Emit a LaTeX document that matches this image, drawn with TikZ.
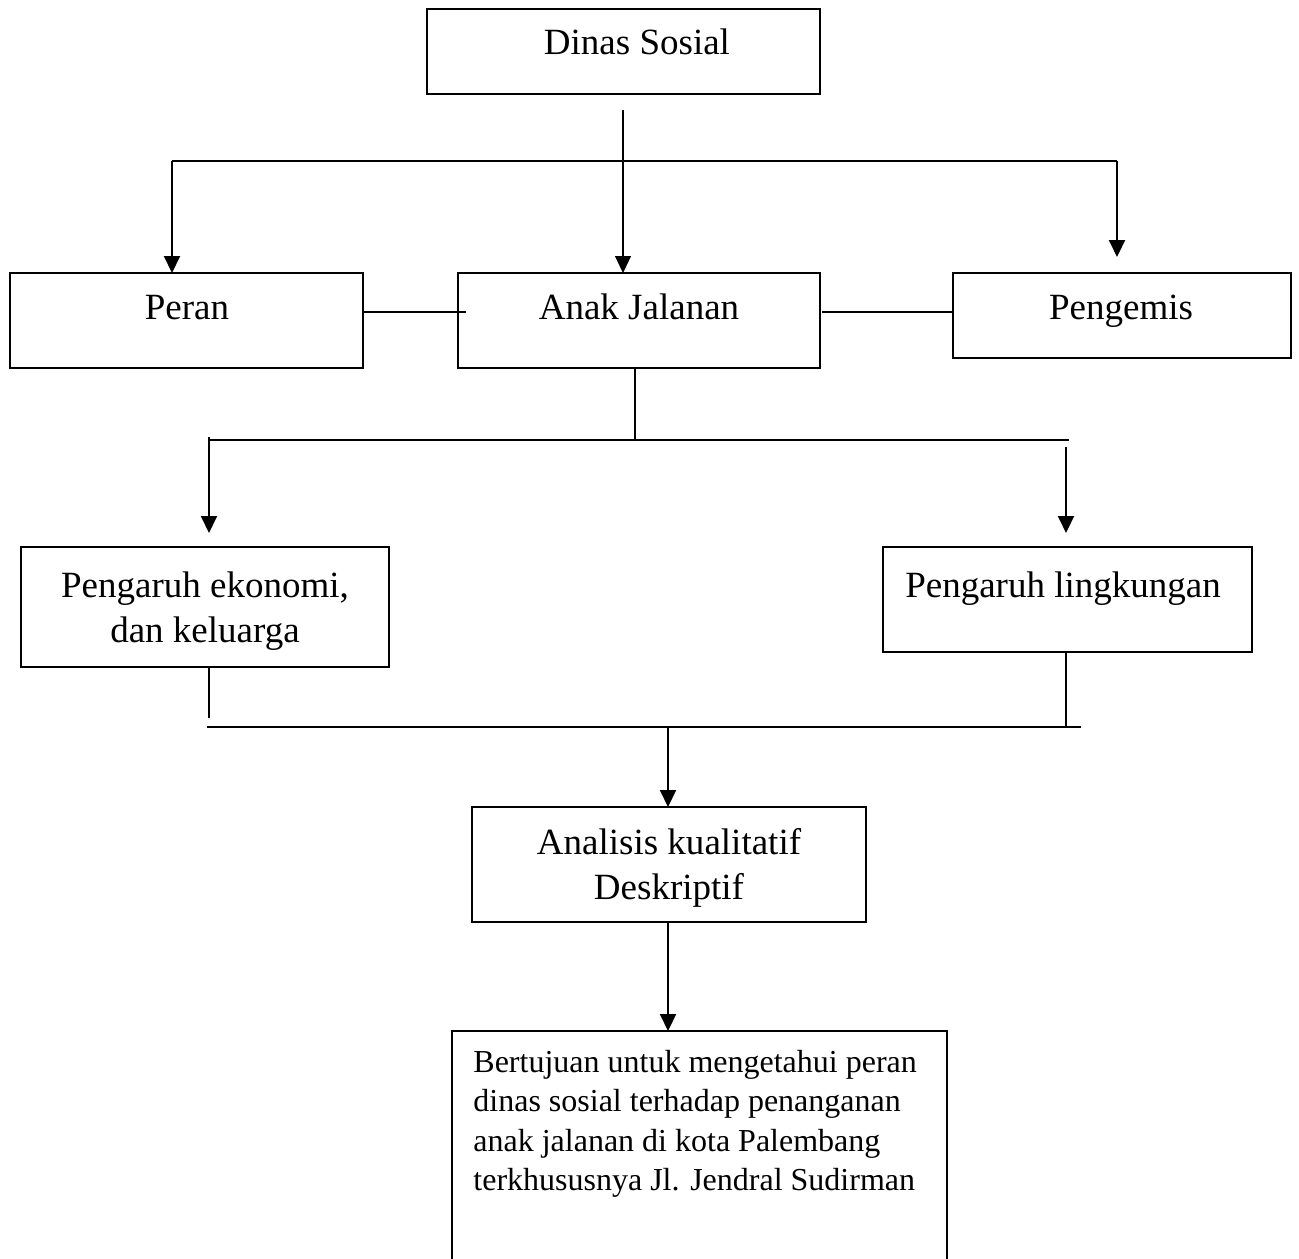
\documentclass[tikz,border=0pt]{standalone}
\usepackage{fontspec}
\setmainfont{Liberation Serif}
\usetikzlibrary{arrows.meta,fit}
\begin{document}
\begin{tikzpicture}[x=0.5pt,y=-0.5pt,
  box/.style={draw, line width=1pt, inner sep=0pt, outer sep=0pt},
  openbox/.style={inner sep=0pt, outer sep=0pt},
  big/.style={font=\fontsize{18.5}{22.5}\selectfont, inner sep=0pt, anchor=base},
  small/.style={font=\fontsize{16}{19.75}\selectfont, inner sep=0pt, anchor=base west},
  thickline/.style={line width=1pt},
  thinline/.style={line width=0.6pt},
  arr/.style={-{Triangle[length=8.5pt,width=8pt]}}]
\useasboundingbox[fill=white] (0,0) rectangle (1299,1258);

% boxes
\node[box, fit={(427,9)(820,94)}] (dinas) {};
\node[box, fit={(10,273)(363,368)}] (peran) {};
\node[box, fit={(458,273)(820,368)}] (anak) {};
\node[box, fit={(953,273)(1291,358)}] (pengemis) {};
\node[box, fit={(21,547)(389,667)}] (ekonomi) {};
\node[box, fit={(883,547)(1252,652)}] (lingkungan) {};
\node[box, fit={(472,807)(866,922)}] (analisis) {};
\node[openbox, fit={(452,1031)(947,1262)}] (tujuan) {};
\draw[line width=1pt] (tujuan.south west) |- (tujuan.north east) -- (tujuan.south east);

% texts
\node[big] (tdinas) at (637,54) {Dinas Sosial};
\node[big] (tperan) at (187,319) {Peran};
\node[big] (tanak) at (639,319) {Anak Jalanan};
\node[big] (tpengemis) at (1121,319) {Pengemis};
\node[big] (teko1) at (205,597) {Pengaruh ekonomi,};
\node[big] (teko2) at (205,642) {dan keluarga};
\node[big] (tling) at (1063,597) {Pengaruh lingkungan};
\node[big] (tana1) at (669,854) {Analisis kualitatif};
\node[big] (tana2) at (669,899) {Deskriptif};
\node[small] (tt1) at (473,1072) {Bertujuan untuk mengetahui peran};
\node[small] (tt2) at (473,1111.5) {dinas sosial terhadap penanganan};
\node[small] (tt3) at (473,1151) {anak jalanan di kota Palembang};
\node[small] (tt4) at (473,1190.5) {terkhususnya Jl. Jendral Sudirman};

% junction coordinates
\coordinate (d0) at (623,110);
\coordinate (h1l) at (172,161);
\coordinate (h1r) at (1117,161);
\coordinate (pe) at (1117,257);
\coordinate (l1) at (364,312);
\coordinate (l1e) at (466,312);
\coordinate (l2) at (822,312);
\coordinate (a0) at (635,440);
\coordinate (h2l) at (209,440);
\coordinate (h2r) at (1069,440);
\coordinate (ekoa) at (209,533);
\coordinate (r0) at (1066,447);
\coordinate (linga) at (1066,533);
\coordinate (b1) at (209,718);
\coordinate (b2) at (1066,726);
\coordinate (h3l) at (207,727);
\coordinate (h3r) at (1081,727);
\coordinate (c3) at (668,727);

% connectors
\draw[thinline, arr] (d0) -- (d0 |- anak.north);
\draw[thickline] (h1l) -- (h1r);
\draw[thickline, arr] (h1l) -- (h1l |- peran.north);
\draw[thickline, arr] (h1r) -- (pe);
\draw[thickline] (l1 -| peran.east) -- (l1e);
\draw[thickline] (l2) -- (l2 -| pengemis.west);
\draw[line width=0.8pt] (a0 |- anak.south) -- (a0);
\draw[thickline] (h2l) -- (h2r);
\draw[thickline] (209,437) -- (h2l);
\draw[thickline, arr] (h2l) -- (ekoa);
\draw[thickline, arr] (r0) -- (linga);
\draw[thinline] (b1 |- ekonomi.south) -- (b1);
\draw[thinline] (b2 |- lingkungan.south) -- (b2);
\draw[thickline] (h3l) -- (h3r);
\draw[thickline, arr] (c3) -- (c3 |- analisis.north);
\draw[thickline, arr] (c3 |- analisis.south) -- (c3 |- tujuan.north);
\end{tikzpicture}
\end{document}
